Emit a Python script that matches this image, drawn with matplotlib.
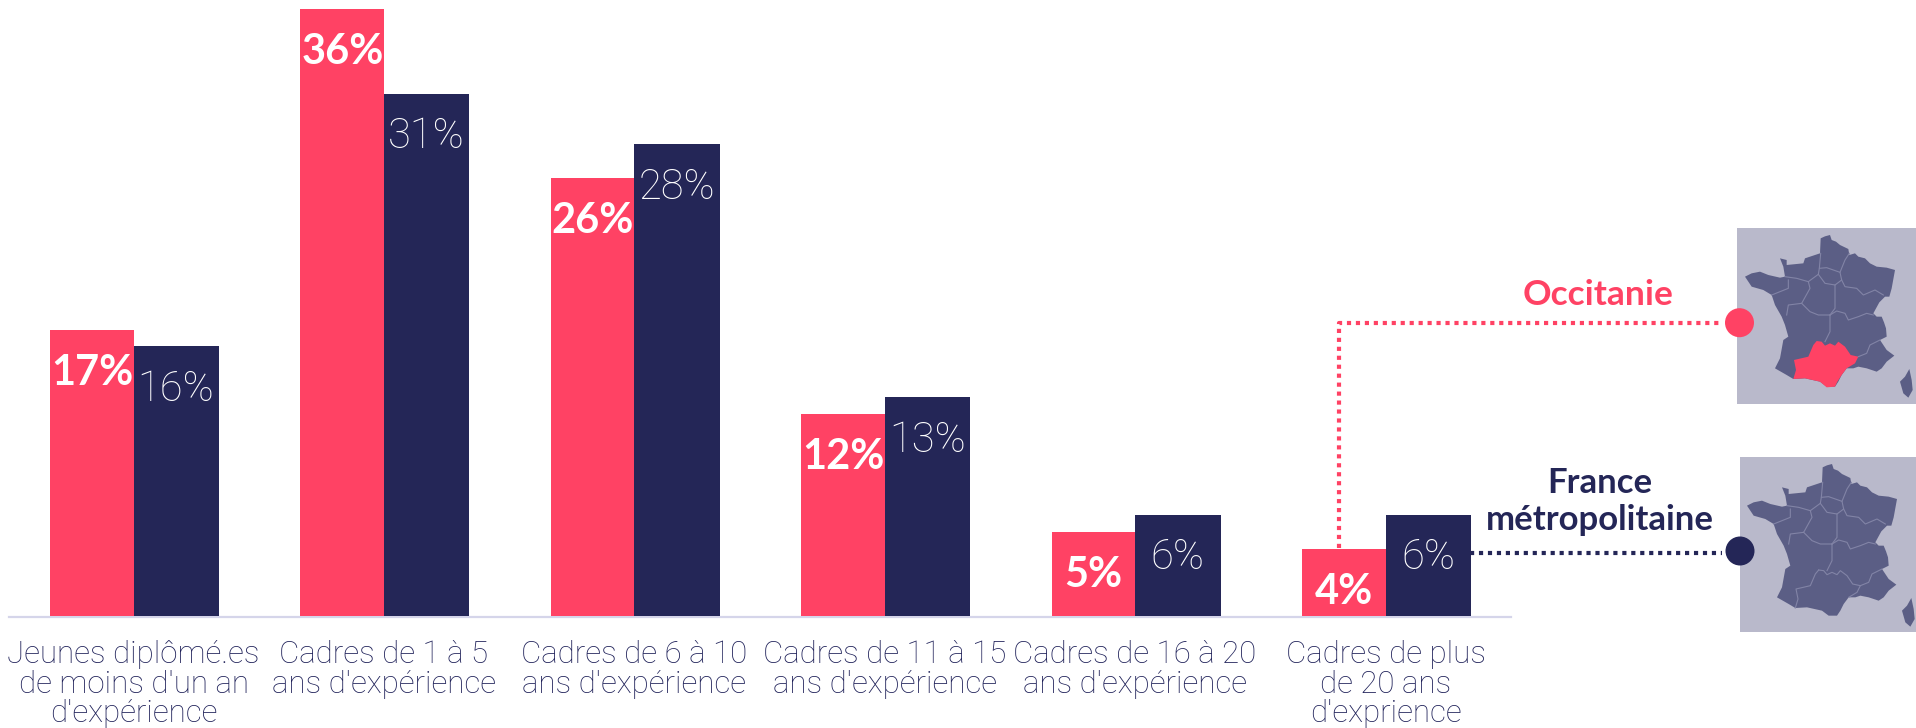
import numpy as np
import matplotlib
matplotlib.use("Agg")
import matplotlib.pyplot as plt
from matplotlib.patches import Polygon, Rectangle, Circle

categories = ["Jeunes diplômé.es\nde moins d'un an\nd'expérience",
              "Cadres de 1 à 5\nans d'expérience",
              "Cadres de 6 à 10\nans d'expérience",
              "Cadres de 11 à 15\nans d'expérience",
              "Cadres de 16 à 20\nans d'expérience",
              "Cadres de plus\nde 20 ans\nd'exprience"]
occitanie = [17, 36, 26, 12, 5, 4]
france = [16, 31, 28, 13, 6, 6]

PINK = "#ff4264"
NAVY = "#242657"
TEXT = "#20225a"
MAP_BG = "#b9b9cb"
LAND = "#5b5e85"
BORDER = "#8284a6"

# map shapes (zoomed crop pixels)
france_outline = [(272,40),(285,34),(300,30),(305,45),(318,50),(330,60),(355,72),(358,90),(375,85),(385,95),(405,100),
                  (420,115),(440,125),(470,128),(495,135),(485,190),(478,215),(465,215),(448,232),(430,265),(440,275),
                  (455,275),(462,292),(468,310),(470,335),(450,345),(460,360),(470,375),(493,392),(470,410),(455,430),
                  (440,440),(410,430),(385,425),(370,430),(350,430),(335,450),(325,470),(315,485),(290,485),(270,470),
                  (225,460),(190,462),(170,450),(135,430),(150,400),(160,345),(175,335),(165,300),(155,275),(135,240),
                  (125,210),(100,195),(65,185),(45,155),(65,145),(90,140),(115,150),(150,158),(165,155),(160,125),
                  (150,100),(170,105),(170,120),(220,115),(225,100),(270,85)]
occitanie_shape = [(260,348),(275,350),(285,362),(300,355),(315,362),(325,350),(345,365),(362,390),(385,395),
                   (375,415),(350,430),(335,450),(322,470),(315,485),(290,487),(270,470),(225,460),(190,462),
                   (198,435),(192,405),(235,395),(250,360)]
corsica = [(538,432),(545,465),(548,495),(535,518),(520,505),(510,470),(525,455)]
region_lines = [
    [(272,85),(268,130),(290,128),(330,142),(345,105),(358,85)],
    [(268,130),(265,148),(285,175),(315,180),(335,165),(330,142)],
    [(265,148),(235,170),(200,160),(165,155)],
    [(175,165),(175,190),(125,210)],
    [(235,170),(240,190),(215,235),(175,240),(170,270)],
    [(335,165),(345,185),(380,190),(400,210),(435,195),(460,210)],
    [(315,180),(315,250),(300,270)],
    [(215,235),(240,260),(265,270),(300,270)],
    [(300,270),(320,258),(345,265),(355,285),(385,275),(410,265),(430,270)],
    [(300,270),(300,320),(285,350)],
    [(385,395),(410,385),(420,360),(450,345)],
]
extra_lines = [
    [(260,348),(250,360),(235,395),(192,405),(198,435),(190,462)],
    [(260,348),(275,350),(285,362),(300,355),(315,362),(325,350),(345,365),(362,390),(385,395),(375,415),(350,430)],
]

plt.rcParams['font.family'] = ['Lato', 'DejaVu Sans']

fig = plt.figure(figsize=(19.16, 7.28), dpi=100)
ax = fig.add_axes([0, 0, 1, 1])
ax.set_xlim(-133.5/250.4, (1916-133.5)/250.4)
ax.set_ylim(-(728-616)/16.85, 616/16.85)
ax.axis('off')

x = np.arange(len(categories))
ax.bar(x, occitanie, width=-0.3335, align='edge', color=PINK, zorder=2)
ax.bar(x, france, width=0.3415, align='edge', color=NAVY, zorder=3)

for i in x:
    ax.annotate("%d%%" % occitanie[i], (i-0.165, occitanie[i]), xytext=(0, -31), textcoords='offset points',
                ha='center', va='center', color='white', fontsize=30, fontweight='bold', zorder=5)
    ax.annotate("%d%%" % france[i], (i+0.17, france[i]), xytext=(0, -31), textcoords='offset points',
                ha='center', va='center', color='white', fontsize=30, family=['Roboto', 'DejaVu Sans'],
                fontweight='light', zorder=5)
    ax.annotate(categories[i], (i, 0), xytext=(0, -17.5), textcoords='offset points', ha='center', va='top',
                color=TEXT, fontsize=22.5, family=['Roboto', 'DejaVu Sans'], fontweight='light',
                linespacing=1.01, zorder=5)

# pixel overlay for the baseline, legend and maps
ov = fig.add_axes([0, 0, 1, 1])
ov.set_xlim(0, 1916)
ov.set_ylim(728, 0)
ov.axis('off')
ov.patch.set_alpha(0)

ov.plot([9, 1511], [617, 617], color="#d5d5ea", lw=1.6, zorder=1)
ax.set_zorder(2)
ov.set_zorder(1)

def draw_map(rect, dx, dy, highlight):
    ov.add_patch(Rectangle((rect[0], rect[1]), rect[2], rect[3], color=MAP_BG, lw=0))
    def conv(pts):
        return [(1730+dx+p[0]/3, 225+dy+p[1]/3) for p in pts]
    ov.add_patch(Polygon(conv(france_outline), color=LAND, lw=0))
    ov.add_patch(Polygon(conv(corsica), color=LAND, lw=0))
    for line in region_lines:
        pts = np.array(conv(line))
        ov.plot(pts[:, 0], pts[:, 1], color=BORDER, lw=0.8)
    if highlight:
        ov.add_patch(Polygon(conv(occitanie_shape), color=PINK, lw=0))
    else:
        for line in extra_lines:
            pts = np.array(conv(line))
            ov.plot(pts[:, 0], pts[:, 1], color=BORDER, lw=0.8)

draw_map((1737.5, 228, 178.5, 176), 0, 0, True)
draw_map((1740, 457, 176, 175), 2, 229, False)

ov2 = fig.add_axes([0, 0, 1, 1], sharex=ov, sharey=ov)
ov2.axis('off')
ov2.patch.set_alpha(0)
ov2.set_zorder(4)
dots = (0, (1.0, 1.15))
ov2.plot([1339, 1339, 1719], [548, 323, 323], color=PINK, lw=3, ls=dots, zorder=1)
ov2.plot([1470, 1722], [553, 553], color=NAVY, lw=3, ls=dots, zorder=1)
ov2.add_patch(Circle((1739.5, 322.7), 14.5, color=PINK, lw=0))
ov2.add_patch(Circle((1740, 551), 14.5, color=NAVY, lw=0))
ov2.text(1598, 295, "Occitanie", color=PINK, fontsize=25.5, fontweight='bold', ha='center', va='center')
ov2.text(1600, 483, "France", color=NAVY, fontsize=25, fontweight='bold', ha='center', va='center')
ov2.text(1600, 520, "métropolitaine", color=NAVY, fontsize=25, fontweight='bold', ha='center', va='center')

fig.savefig("out.png", dpi=100)
